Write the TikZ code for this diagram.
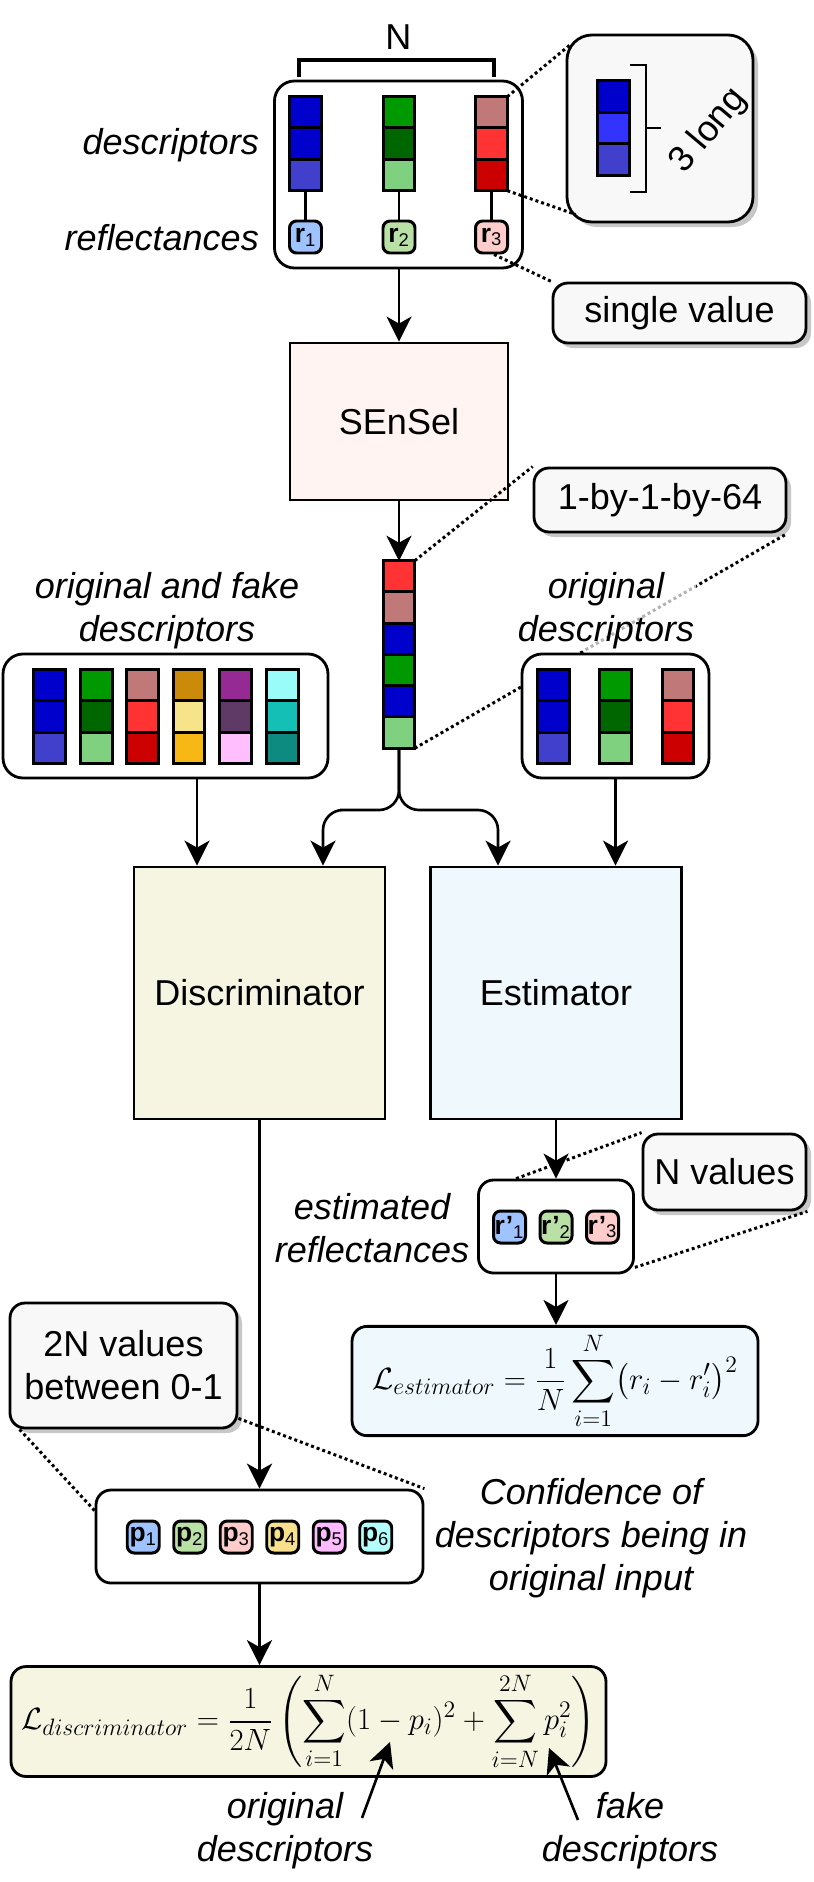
\documentclass[tikz,border=0pt]{standalone}
\usepackage{fix-cm}
\usepackage{amsmath}
\usepackage[no-math]{fontspec}
\setmainfont{Liberation Sans}
\DeclareMathSizes{17.5}{17.5}{13.5}{10}
\usetikzlibrary{arrows.meta,shadows}
\definecolor{dblue}{HTML}{0000CC}
\definecolor{mblue}{HTML}{4040CC}
\definecolor{bblue}{HTML}{3333FF}
\definecolor{green}{HTML}{009900}
\definecolor{dgreen}{HTML}{006600}
\definecolor{lgreen}{HTML}{7FD07F}
\definecolor{rosy}{HTML}{C07878}
\definecolor{red}{HTML}{FF3333}
\definecolor{dred}{HTML}{CC0000}
\definecolor{orange}{HTML}{CC8A0A}
\definecolor{lyellow}{HTML}{F7E38A}
\definecolor{gold}{HTML}{F7B815}
\definecolor{purple}{HTML}{952A95}
\definecolor{dpurple}{HTML}{5F3A67}
\definecolor{lpink}{HTML}{FFBFFF}
\definecolor{lcyan}{HTML}{9AFCF8}
\definecolor{teal}{HTML}{14BFB5}
\definecolor{dteal}{HTML}{0D8B80}
\definecolor{vblue}{HTML}{9EC3FF}
\definecolor{vgreen}{HTML}{B9E0A5}
\definecolor{vpink}{HTML}{FFCCCC}
\definecolor{vyellow}{HTML}{F8E08C}
\definecolor{vpurple}{HTML}{FFBBFF}
\definecolor{vcyan}{HTML}{B3FFFB}
\definecolor{notegray}{HTML}{F8F8F8}
\definecolor{senselfill}{HTML}{FFF4F2}
\definecolor{discfill}{HTML}{F6F5E2}
\definecolor{estfill}{HTML}{EEF8FD}
\begin{document}
\begin{tikzpicture}[
  font=\fontsize{20.5}{24.5}\selectfont,
  conn/.style={line width=1.5pt},
  arr/.style={line width=1.5pt,-{Stealth[length=0.5cm,width=0.5cm,inset=0.14cm]}},
  dots/.style={line width=1.7pt,dash pattern=on 1.7pt off 1.7pt},
  box/.style={draw,line width=1.6pt,rounded corners=0.4cm,fill=white},
  block/.style={draw,line width=1.6pt},
  cell/.style={draw,line width=1.7pt,minimum size=0.63cm,inner sep=0pt,outer sep=0pt},
  val/.style={draw,line width=1.7pt,minimum size=0.64cm,inner sep=0pt,rounded corners=0.14cm,
    font=\fontsize{15}{15}\selectfont\bfseries},
  note/.style={draw,line width=1.6pt,rounded corners=0.3cm,fill=notegray,align=center,
    drop shadow={shadow xshift=0.1cm,shadow yshift=-0.1cm,fill=black!22,opacity=1}},
  lbl/.style={font=\fontsize{20.5}{24.5}\selectfont\itshape,align=center},
  eq/.style={font=\fontsize{17.5}{21}\selectfont},
]
\useasboundingbox (0,0) rectangle (16.28,-37.64);
% input descriptors and reflectances
\node (nlbl) at (7.97,-0.74) {N};
\draw[line width=2.6pt] (5.98,-1.53) -- (5.98,-1.2) -- (9.88,-1.2) -- (9.88,-1.53);
\node[box,minimum width=4.96cm,minimum height=3.74cm] (topbox) at (7.97,-3.49) {};
\foreach \x/\n/\ca/\cb/\cc/\cr in {6.11/1/dblue/dblue/mblue/vblue,7.98/2/green/dgreen/lgreen/vgreen,9.83/3/rosy/red/dred/vpink}{
  \node[cell,fill=\ca] (d\n a) at (\x,-2.25) {};
  \node[cell,fill=\cb] (d\n b) at (\x,-2.874) {};
  \node[cell,fill=\cc] (d\n c) at (\x,-3.498) {};
  \node[val,fill=\cr] (r\n) at (\x,-4.74) {r\textsubscript{\mdseries\n}};
  \draw[conn] (d\n c) -- (r\n);
}
\node[lbl,anchor=east] (desclbl) at (5.3,-2.9) {descriptors};
\node[lbl,anchor=east] (refllbl) at (5.3,-4.76) {reflectances};
% zoom on one descriptor
\node[note,rounded corners=0.5cm,minimum width=3.72cm,minimum height=3.74cm] (zoombox) at (13.2,-2.57) {};
\foreach \c [count=\i] in {dblue,bblue,mblue}
  \node[cell,fill=\c] (m\i) at (12.27,{-1.93-0.63*(\i-1)}) {};
\draw[line width=1.5pt] (12.6,-1.3) -- (12.92,-1.3) -- (12.92,-3.84) -- (12.6,-3.84);
\draw[line width=1.5pt] (12.92,-2.56) -- (13.22,-2.56);
\node[rotate=50] (longlbl) at (14.18,-2.62) {3 long};
\draw[dots] (d3a.north east) -- ([xshift=0.12cm,yshift=-0.2cm]zoombox.north west);
\draw[dots] (d3c.south east) -- ([xshift=0.2cm,yshift=0.18cm]zoombox.south west);
\node[note,minimum width=5.06cm,minimum height=1.2cm] (singlebox) at (13.59,-6.26) {single value};
\draw[dots] ([xshift=0.05cm]r3.south) -- (singlebox.north west);
% SEnSel
\node[block,fill=senselfill,minimum width=4.36cm,minimum height=3.14cm] (sensel) at (7.98,-8.43) {SEnSel};
\draw[arr] (topbox.south -| sensel.north) -- (sensel.north);
\foreach \c [count=\i] in {red,rosy,dblue,green,dblue,lgreen}
  \node[cell,fill=\c] (f\i) at (7.98,{-11.53-0.624*(\i-1)}) {};
\draw[arr] (sensel.south) -- (f1.north);
\node[note,minimum width=5.04cm,minimum height=1.28cm] (sizebox) at (13.2,-10.0) {1-by-1-by-64};
\draw[dots] (f1.north east) -- (sizebox.north west);
\draw[dots] (f6.south east) -- (sizebox.south east);
% original and fake descriptors
\node[lbl] (fakelbl) at (3.34,-12.22) {original and fake\\descriptors};
\node[box,minimum width=6.5cm,minimum height=2.48cm] (fakebox) at (3.31,-14.32) {};
\foreach \x/\n/\ca/\cb/\cc in {0.99/1/dblue/dblue/mblue,1.93/2/green/dgreen/lgreen,2.85/3/rosy/red/dred,3.78/4/orange/lyellow/gold,4.71/5/purple/dpurple/lpink,5.65/6/lcyan/teal/dteal}{
  \node[cell,fill=\ca] (a\n a) at (\x,-13.71) {};
  \node[cell,fill=\cb] (a\n b) at (\x,-14.334) {};
  \node[cell,fill=\cc] (a\n c) at (\x,-14.958) {};
}
\node[lbl,fill=white,fill opacity=0.7,text opacity=1,inner sep=1pt] (origlbl) at (12.12,-12.22) {original\\descriptors};
\node[box,minimum width=3.74cm,minimum height=2.48cm] (origbox) at (12.31,-14.32) {};
\foreach \x/\n/\ca/\cb/\cc in {11.07/1/dblue/dblue/mblue,12.31/2/green/dgreen/lgreen,13.56/3/rosy/red/dred}{
  \node[cell,fill=\ca] (o\n a) at (\x,-13.71) {};
  \node[cell,fill=\cb] (o\n b) at (\x,-14.334) {};
  \node[cell,fill=\cc] (o\n c) at (\x,-14.958) {};
}
% discriminator and estimator
\node[block,fill=discfill,minimum width=5.02cm,minimum height=5.04cm] (disc) at (5.19,-19.86) {Discriminator};
\node[block,fill=estfill,minimum width=5.02cm,minimum height=5.04cm] (est) at (11.12,-19.86) {Estimator};
\draw[arr] ([xshift=0.63cm]fakebox.south) -- ([xshift=0.63cm]fakebox.south |- disc.north);
\draw[arr] (origbox.south) -- (origbox.south |- est.north);
\draw[arr,rounded corners=0.4cm] (f6.south) |- (7.2,-16.2) -| ([xshift=1.27cm]disc.north);
\draw[arr,rounded corners=0.4cm] (f6.south) |- (8.8,-16.2) -| ([xshift=-1.16cm]est.north);
% estimated reflectances
\node[box,rounded corners=0.3cm,minimum width=3.1cm,minimum height=1.86cm] (estbox) at (11.12,-24.53) {};
\foreach \c [count=\i] in {vblue,vgreen,vpink}
  \node[val,fill=\c] (e\i) at ({11.12+0.93*(\i-2)},-24.54) {r'\textsubscript{\mdseries\i}};
\draw[arr] (est.south) -- (estbox.north);
\node[lbl] (estlbl) at (7.44,-24.56) {estimated\\reflectances};
\node[note,minimum width=3.26cm,minimum height=1.52cm] (nvalbox) at (14.49,-23.44) {N values};
\draw[dots] ([xshift=0.78cm]estbox.north west) -- (nvalbox.north west);
\draw[dots] ([yshift=0.14cm]estbox.south east) -- (nvalbox.south east);
\node[box,fill=estfill,rounded corners=0.3cm,minimum width=8.12cm,minimum height=1.88cm,eq] (estloss) at (11.1,-27.62)
  {$\displaystyle \mathcal{L}_{estimator}=\frac{1}{N}\sum_{i=1}^{N}\bigl(r_i-r'_i\bigr)^2$};
\draw[arr] (estbox.south) -- (estbox.south |- estloss.north);
% discriminator output
\node[note,minimum width=4.54cm,minimum height=2.5cm] (rangebox) at (2.47,-27.31) {2N values\\between 0-1};
\node[box,rounded corners=0.3cm,minimum width=6.54cm,minimum height=1.86cm] (pbox) at (5.19,-30.73) {};
\foreach \c [count=\i] in {vblue,vgreen,vpink,vyellow,vpurple,vcyan}
  \node[val,fill=\c] (p\i) at ({5.19+0.93*(\i-3.5)},-30.74) {p\textsubscript{\mdseries\i}};
\draw[arr] (disc.south) -- (pbox.north);
\draw[dots] ([xshift=0.22cm]rangebox.south west) -- ([yshift=-0.44cm]pbox.north west);
\draw[dots] ([yshift=0.22cm]rangebox.south east) -- (pbox.north east);
\node[lbl] (conflbl) at (11.82,-30.76) {Confidence of\\descriptors being in\\original input};
\node[box,fill=discfill,rounded corners=0.3cm,minimum width=11.9cm,minimum height=1.86cm,eq] (discloss) at (6.17,-34.43)
  {$\displaystyle \mathcal{L}_{discriminator}=\frac{1}{2N}\left(\sum_{i=1}^{N}(1-p_i)^2+\sum_{i=N}^{2N}p_i^2\right)$};
\draw[arr] (pbox.south) -- (pbox.south |- discloss.north);
% annotations
\node[lbl] (origann) at (5.7,-36.62) {original\\descriptors};
\node[lbl] (fakeann) at (12.6,-36.62) {fake\\descriptors};
\coordinate (origfoot) at (7.24,-36.36);
\coordinate (origtip) at (7.8,-34.84);
\coordinate (fakefoot) at (11.56,-36.4);
\coordinate (faketip) at (10.98,-34.96);
\draw[arr] (origfoot) -- (origtip);
\draw[arr] (fakefoot) -- (faketip);
\end{tikzpicture}
\end{document}
